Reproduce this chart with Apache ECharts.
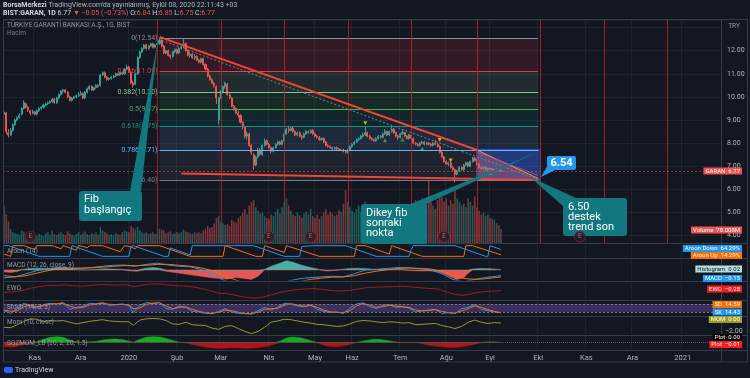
<!DOCTYPE html>
<html>
<head>
<meta charset="utf-8">
<title>GARAN 1G</title>
<script src="https://cdn.jsdelivr.net/npm/echarts/dist/echarts.min.js"></script>
<style>
html, body { margin: 0; padding: 0; background: #131722; }
#chart { width: 750px; height: 378px; }
</style>
</head>
<body>
<div id="chart"></div>
<script>
var FONT = 'Roboto, "Liberation Sans", sans-serif';

// trading days: weekdays, BIST holidays skipped
var holidays = ['2019-10-29', '2020-01-01', '2020-04-23', '2020-05-01', '2020-05-19',
  '2020-05-25', '2020-05-26', '2020-07-15', '2020-07-31', '2020-08-03'];
var dates = [];
var day = new Date(Date.UTC(2019, 9, 11));
var lastDay = Date.UTC(2021, 0, 26);
while (day.getTime() <= lastDay) {
  var wd = day.getUTCDay();
  var iso = day.toISOString().slice(0, 10);
  if (wd !== 0 && wd !== 6 && holidays.indexOf(iso) < 0) dates.push(iso);
  day.setUTCDate(day.getUTCDate() + 1);
}
var monthNames = ['Oca', 'Şub', 'Mar', 'Nis', 'May', 'Haz', 'Tem', 'Ağu', 'Eyl', 'Eki', 'Kas', 'Ara'];

// [open, close, low, high]
var candles = [
  [9.25,9.35,9.15,9.45],[9.30,8.50,8.40,9.35],[8.45,8.35,8.25,8.60],[8.35,8.55,8.30,8.65],[8.55,8.80,8.50,8.85],[8.80,9.00,8.75,9.05],
  [9.00,9.10,8.95,9.15],[9.10,9.20,9.05,9.30],[9.25,9.50,9.20,9.55],[9.50,9.75,9.45,9.85],[9.70,9.55,9.50,9.75],[9.55,9.45,9.35,9.60],
  [9.40,9.30,9.20,9.45],[9.30,9.35,9.25,9.45],[9.35,9.25,9.20,9.40],[9.25,9.40,9.20,9.45],[9.40,9.50,9.35,9.55],[9.50,9.55,9.45,9.60],
  [9.55,9.65,9.50,9.70],[9.65,9.70,9.60,9.75],[9.70,9.75,9.65,9.80],[9.75,9.80,9.70,9.85],[9.80,9.90,9.75,9.95],[9.90,9.75,9.70,9.95],
  [9.75,9.95,9.70,10.00],[9.95,10.10,9.90,10.15],[10.10,10.25,10.05,10.30],[10.25,10.30,10.15,10.35],[10.30,10.20,10.15,10.35],[10.20,10.00,9.95,10.25],
  [10.00,9.85,9.80,10.05],[9.85,9.95,9.80,10.00],[9.95,10.00,9.90,10.05],[10.00,10.05,9.95,10.10],[10.05,10.10,10.00,10.20],[10.10,10.15,10.05,10.25],
  [10.15,9.95,9.90,10.20],[9.95,10.20,9.90,10.25],[10.20,10.35,10.15,10.40],[10.35,10.45,10.30,10.50],[10.45,10.30,10.25,10.50],[10.30,10.40,10.25,10.45],
  [10.40,10.50,10.35,10.55],[10.50,10.45,10.40,10.55],[10.50,10.95,10.45,11.00],[10.95,11.05,10.90,11.10],[11.05,10.85,10.80,11.10],[10.85,10.75,10.70,10.90],
  [10.75,10.80,10.70,10.85],[10.80,10.85,10.75,10.90],[10.85,10.90,10.80,10.95],[10.90,11.00,10.85,11.05],[11.00,10.95,10.90,11.05],[10.95,11.05,10.90,11.10],
  [11.05,11.00,10.95,11.10],[11.00,11.20,10.95,11.25],[11.20,11.30,11.15,11.40],[11.30,11.10,11.05,11.35],[11.05,10.60,10.55,11.10],[10.60,10.50,10.40,10.70],
  [10.55,11.00,10.50,11.05],[11.00,11.70,10.95,11.75],[11.70,11.95,11.65,12.00],[11.95,12.10,11.90,12.15],[12.10,12.25,12.05,12.30],[12.25,12.10,12.05,12.30],
  [12.10,12.20,12.05,12.25],[12.20,12.30,12.15,12.35],[12.30,12.15,12.10,12.35],[12.15,12.25,12.10,12.30],[12.25,12.30,12.20,12.40],[12.30,12.45,12.25,12.54],
  [12.45,12.20,12.15,12.50],[12.20,11.90,11.85,12.25],[11.90,12.00,11.85,12.05],[12.00,11.80,11.75,12.05],[11.80,11.75,11.65,11.85],[11.75,11.95,11.70,12.00],
  [11.95,12.05,11.90,12.10],[12.05,11.90,11.85,12.10],[11.90,12.10,11.85,12.15],[12.10,12.15,12.05,12.25],[12.15,12.30,12.10,12.50],[12.30,12.00,11.95,12.35],
  [12.00,11.80,11.75,12.05],[11.80,11.85,11.70,11.95],[11.85,11.70,11.65,11.90],[11.70,11.75,11.60,11.85],[11.75,11.60,11.55,11.80],[11.60,11.50,11.45,11.65],
  [11.50,11.65,11.45,11.70],[11.65,11.40,11.35,11.70],[11.40,11.20,11.15,11.45],[11.20,10.90,10.85,11.25],[10.90,10.75,10.70,10.95],[10.75,10.60,10.55,10.80],
  [10.60,10.50,10.40,10.65],[10.45,9.95,9.70,10.50],[9.00,9.95,8.80,10.00],[9.95,10.20,9.90,10.30],[10.20,10.45,10.15,10.50],[10.45,10.60,10.35,10.65],
  [10.55,10.10,10.05,10.60],[10.10,10.00,9.90,10.15],[9.95,9.60,9.55,10.00],[9.60,9.50,9.40,9.65],[9.50,9.30,9.25,9.55],[9.30,9.20,9.10,9.40],
  [9.20,8.90,8.85,9.25],[8.90,8.70,8.60,8.95],[8.70,8.30,8.20,8.75],[8.30,8.40,8.15,8.50],[8.40,7.90,7.85,8.45],[7.90,7.60,7.50,7.95],
  [7.50,7.05,6.85,7.55],[7.05,7.40,7.00,7.45],[7.40,7.70,7.35,7.80],[7.70,7.50,7.45,7.80],[7.50,7.90,7.45,7.95],[7.90,8.10,7.85,8.20],
  [8.10,7.95,7.90,8.15],[7.95,7.80,7.75,8.00],[7.80,7.65,7.55,7.85],[7.65,7.80,7.60,7.85],[7.80,7.95,7.75,8.00],[7.95,8.05,7.90,8.10],
  [8.05,7.95,7.90,8.10],[7.95,8.10,7.90,8.15],[8.10,8.40,8.05,8.45],[8.40,8.60,8.35,8.65],[8.60,8.55,8.45,8.75],[8.55,8.65,8.50,8.70],
  [8.65,8.50,8.45,8.70],[8.50,8.35,8.30,8.55],[8.35,8.45,8.30,8.50],[8.45,8.30,8.25,8.50],[8.30,8.25,8.15,8.35],[8.25,8.40,8.20,8.45],
  [8.40,8.50,8.35,8.55],[8.50,8.45,8.40,8.55],[8.45,8.55,8.40,8.60],[8.55,8.40,8.35,8.60],[8.40,8.30,8.25,8.45],[8.30,8.25,8.20,8.35],
  [8.25,8.15,8.10,8.30],[8.15,8.20,8.10,8.25],[8.20,8.05,8.00,8.25],[8.05,7.90,7.85,8.10],[7.90,7.85,7.80,7.95],[7.85,7.80,7.75,7.90],
  [7.80,7.75,7.70,7.85],[7.75,7.80,7.70,7.85],[7.80,7.75,7.70,7.85],[7.75,7.70,7.65,7.80],[7.70,7.70,7.65,7.75],[7.70,7.65,7.60,7.75],
  [7.65,7.60,7.55,7.70],[7.60,7.70,7.55,7.75],[7.70,7.85,7.65,7.90],[7.85,7.95,7.80,8.00],[7.95,8.05,7.90,8.10],[8.05,8.15,8.00,8.20],
  [8.15,8.20,8.10,8.25],[8.20,8.30,8.15,8.35],[8.30,8.35,8.25,8.45],[8.35,8.45,8.30,8.70],[8.45,8.30,8.25,8.50],[8.30,8.20,8.15,8.35],
  [8.20,8.15,8.10,8.25],[8.15,8.10,8.05,8.20],[8.10,8.20,8.05,8.25],[8.20,8.30,8.15,8.35],[8.30,8.25,8.20,8.35],[8.25,8.40,8.20,8.45],
  [8.40,8.50,8.35,8.60],[8.50,8.35,8.30,8.55],[8.35,8.50,8.30,8.55],[8.50,8.60,8.45,8.70],[8.60,8.45,8.40,8.65],[8.45,8.30,8.25,8.50],
  [8.30,8.25,8.15,8.35],[8.25,8.40,8.20,8.45],[8.40,8.45,8.35,8.55],[8.45,8.30,8.25,8.50],[8.30,8.20,8.15,8.35],[8.20,8.35,8.15,8.40],
  [8.35,8.20,8.15,8.40],[8.20,8.00,7.95,8.25],[8.00,7.95,7.90,8.05],[7.95,7.90,7.85,8.00],[7.90,8.00,7.85,8.05],[8.00,8.05,7.95,8.10],
  [8.05,7.95,7.90,8.10],[7.95,8.00,7.90,8.05],[8.00,7.95,7.90,8.05],[7.95,7.90,7.85,8.00],[7.90,8.00,7.85,8.05],[8.00,7.95,7.90,8.15],
  [7.95,7.85,7.80,8.00],[7.85,7.60,7.55,7.90],[7.60,7.40,7.35,7.65],[7.40,7.20,7.15,7.45],[7.20,7.10,7.05,7.25],[7.10,7.15,7.00,7.20],
  [7.15,6.95,6.90,7.20],[6.95,6.85,6.80,7.00],[6.85,6.65,6.30,6.90],[6.65,6.80,6.60,6.85],[6.80,6.95,6.75,7.00],[6.95,6.85,6.80,7.00],
  [6.85,7.05,6.80,7.10],[7.05,7.15,7.00,7.20],[7.15,7.00,6.95,7.20],[7.00,7.20,6.95,7.25],[7.20,7.35,7.15,7.40],[7.35,7.25,7.20,7.40],
  [7.25,7.10,7.05,7.30],[7.10,6.95,6.90,7.15],[6.95,6.90,6.85,7.00],[6.90,6.95,6.85,7.00],[6.95,6.85,6.80,7.00],[6.85,6.90,6.80,6.95],
  [6.90,6.88,6.83,6.95],[6.88,6.82,6.78,6.92],[6.82,6.86,6.78,6.90],[6.86,6.80,6.76,6.90],[6.80,6.84,6.77,6.88],[6.84,6.77,6.75,6.85]
];

// volume, millions
var volume = [
  210,160,120,80,60,55,50,45,70,65, 50,45,40,55,45,40,50,45,40,55,
  60,45,70,50,45,55,60,50,45,65, 55,45,40,50,60,45,55,65,50,45,
  55,50,60,45,90,70,60,55,45,50, 45,55,50,45,60,70,65,60,95,85,
  75,90,70,60,55,60,50,55,60,50, 55,80,75,70,55,60,65,50,55,60,
  55,60,75,65,60,55,50,60,55,60, 55,70,80,95,85,90,110,140,150,120,
  110,100,105,95,130,120,115,140,150,170, 190,160,210,230,240,200,180,165,170,150,
  140,135,160,150,175,190,165,200,230,250, 210,180,160,150,170,155,140,165,175,160,
  190,150,140,160,135,150,170,190,160,175, 165,150,160,185,170,220,295,230,200,180,
  170,190,210,175,200,230,185,160,150,170, 155,175,160,190,200,170,160,185,175,165,
  150,180,160,140,170,200,185,210,240,190, 230,250,220,250,350,230,210,190,240,270,
  260,230,250,210,240,220,300,250,230,210, 220,200,250,230,210,260,200,180,160,170,
  150,160,140,135,130,110,100,78
];

// fibonacci retracement
var fibRatios = ['0', '0.236', '0.382', '0.5', '0.618', '0.786', '1'];
var fibPrices = [12.54, 11.09, 10.20, 9.47, 8.75, 7.71, 6.40];
var fibColors = ['#8a8d96', '#f23645', '#81c784', '#4caf50', '#089981', '#64b5f6', '#787b86'];
var fibFills = ['rgba(242,54,69,0.14)', 'rgba(129,199,132,0.12)', 'rgba(76,175,80,0.12)',
  'rgba(8,153,129,0.12)', 'rgba(100,181,246,0.12)', 'rgba(120,123,134,0.12)'];
var fibStart = 71, fibEnd = 244;

// drawings, [bar index, price]
var cycleLines = [70, 99, 128, 157, 186, 216, 245, 274, 303];
var trendTop = [[71, 12.60], [216, 7.70]];
var trendExt = [[216, 7.70], [244, 6.47]];
var supportLine = [[81, 6.68], [244, 6.40]];
var guideLine = [[72, 12.45], [244, 6.42]];
var triangle = [[216, 7.70], [244, 6.47], [244, 6.40], [216, 6.40]];
var boxRange = [[216, 7.71], [245, 6.40]];
var upMarks = [[174, 8.12], [182, 8.16], [191, 7.77], [222, 6.70]];
var downMarks = [[165, 8.86], [199, 8.13], [204, 7.25]];
var earnings = [12, 121, 140, 201, 263];

// indicators, [bar index, value]
var aroonUp = [[0,21],[2,7],[3,0],[4,100],[9,100],[10,93],[14,64],[15,100],[22,100],[23,93],[26,71],[27,100],[28,93],
  [33,57],[34,100],[36,93],[38,79],[39,100],[45,100],[46,93],[53,43],[55,100],[57,93],[60,71],[61,100],[71,100],
  [85,0],[100,0],[101,100],[115,0],[118,0],[119,100],[120,93],[128,36],[129,100],[130,93],[144,0],[160,0],[161,100],
  [165,100],[166,93],[176,21],[177,100],[178,93],[191,0],[210,0],[211,100],[214,100],[215,93],[227,14]];
var aroonDown = [[0,100],[2,100],[3,93],[16,0],[30,0],[31,100],[32,93],[45,0],[57,0],[58,93],[59,100],[60,93],[73,0],
  [75,0],[76,79],[77,71],[84,21],[85,14],[86,100],[114,100],[128,0],[135,0],[136,93],[142,100],[156,100],[170,0],
  [185,0],[186,64],[187,100],[206,100],[220,0],[221,0],[222,100],[227,64]];
var macdHist = [[0,-0.06],[3,-0.08],[6,-0.05],[8,0.02],[12,0.05],[16,0.06],[20,0.05],[24,0.07],[28,0.08],[31,0.03],
  [34,0.01],[38,0.0],[42,0.02],[46,0.04],[50,0.03],[54,0.02],[58,-0.03],[61,-0.04],[64,0.05],[68,0.08],[71,0.06],
  [74,-0.04],[78,-0.08],[82,-0.12],[86,-0.16],[90,-0.2],[94,-0.24],[98,-0.27],[102,-0.29],[106,-0.24],[110,-0.27],
  [113,-0.3],[116,-0.2],[119,0.02],[122,0.12],[126,0.22],[129,0.3],[132,0.25],[136,0.15],[140,0.08],[144,0.02],
  [147,-0.03],[150,-0.02],[154,0.02],[158,0.05],[162,0.06],[166,0.04],[170,0.02],[174,0.03],[178,0.02],[182,0.01],
  [186,-0.02],[190,-0.03],[194,-0.03],[198,-0.05],[201,-0.12],[204,-0.22],[207,-0.3],[210,-0.25],[212,-0.1],
  [214,0.03],[218,0.05],[222,0.04],[227,0.02]];
var macdLine = [[0,-0.25],[5,-0.22],[10,-0.12],[15,-0.02],[20,0.04],[25,0.08],[30,0.06],[35,0.05],[40,0.08],[45,0.12],
  [50,0.15],[55,0.16],[60,0.12],[65,0.18],[70,0.22],[75,0.16],[80,0.12],[85,0.1],[90,0.02],[95,-0.12],[100,-0.32],
  [105,-0.45],[110,-0.6],[115,-0.8],[120,-0.7],[125,-0.5],[130,-0.35],[135,-0.28],[140,-0.24],[145,-0.22],[150,-0.2],
  [155,-0.22],[160,-0.12],[165,0.0],[170,0.02],[175,0.05],[180,0.08],[185,0.07],[190,0.04],[195,0.0],[200,-0.12],
  [205,-0.3],[210,-0.38],[215,-0.3],[220,-0.24],[227,-0.18]];
var macdSignal = [[0,-0.18],[5,-0.22],[10,-0.18],[15,-0.1],[20,-0.02],[25,0.04],[30,0.06],[35,0.06],[40,0.07],[45,0.09],
  [50,0.12],[55,0.14],[60,0.14],[65,0.15],[70,0.18],[75,0.18],[80,0.15],[85,0.12],[90,0.07],[95,-0.02],[100,-0.15],
  [105,-0.3],[110,-0.42],[115,-0.58],[120,-0.65],[125,-0.6],[130,-0.48],[135,-0.38],[140,-0.3],[145,-0.26],[150,-0.23],
  [155,-0.22],[160,-0.18],[165,-0.1],[170,-0.04],[175,0.01],[180,0.05],[185,0.06],[190,0.05],[195,0.03],[200,-0.04],
  [205,-0.15],[210,-0.27],[215,-0.3],[220,-0.28],[227,-0.22]];
var ewo = [[0,-0.6],[4,-0.5],[8,-0.3],[12,0.1],[16,0.4],[20,0.55],[24,0.6],[28,0.7],[32,0.5],[36,0.45],[40,0.6],[44,0.75],
  [48,0.7],[52,0.65],[56,0.7],[59,0.4],[62,0.55],[66,0.8],[70,0.85],[74,0.7],[78,0.55],[82,0.5],[86,0.35],[90,0.1],
  [94,-0.3],[98,-0.7],[102,-0.8],[106,-1.1],[110,-1.4],[114,-1.55],[118,-1.4],[122,-1.0],[126,-0.6],[130,-0.3],
  [134,-0.1],[138,0.0],[142,0.05],[146,-0.1],[150,-0.3],[154,-0.35],[158,-0.25],[162,0.0],[166,0.25],[170,0.3],
  [174,0.35],[178,0.4],[182,0.45],[186,0.35],[190,0.2],[194,0.1],[198,0.0],[202,-0.5],[206,-0.9],[209,-1.1],
  [212,-0.95],[216,-0.6],[220,-0.45],[224,-0.35],[227,-0.28]];
var stochK = [[0,30],[3,10],[6,45],[9,85],[12,60],[15,50],[18,75],[21,85],[24,80],[27,90],[30,40],[33,55],[36,60],[39,85],
  [42,80],[45,90],[48,70],[51,75],[54,80],[57,70],[59,15],[62,70],[65,90],[68,85],[71,92],[74,45],[77,40],[80,65],
  [83,55],[86,25],[89,20],[92,10],[95,8],[98,25],[101,45],[104,20],[107,10],[110,8],[113,5],[116,30],[119,55],[122,35],
  [125,55],[128,85],[131,80],[134,65],[137,60],[140,75],[143,40],[146,25],[149,15],[152,20],[155,10],[158,50],[161,80],
  [164,88],[167,60],[170,45],[173,70],[176,75],[179,55],[182,60],[185,50],[188,20],[191,30],[194,35],[197,40],[200,10],
  [203,15],[206,8],[209,45],[212,55],[215,75],[218,40],[221,30],[224,20],[227,14.43]];
var stochD = [[0,35],[3,25],[6,30],[9,60],[12,70],[15,60],[18,65],[21,78],[24,82],[27,85],[30,65],[33,50],[36,55],[39,72],
  [42,80],[45,85],[48,78],[51,75],[54,77],[57,72],[59,45],[62,50],[65,78],[68,85],[71,88],[74,65],[77,45],[80,55],
  [83,58],[86,40],[89,25],[92,15],[95,10],[98,18],[101,35],[104,30],[107,18],[110,10],[113,7],[116,18],[119,40],[122,45],
  [125,48],[128,70],[131,82],[134,72],[137,63],[140,68],[143,55],[146,35],[149,22],[152,18],[155,15],[158,30],[161,65],
  [164,82],[167,72],[170,55],[173,60],[176,70],[179,65],[182,58],[185,55],[188,35],[191,28],[194,32],[197,38],[200,25],
  [203,15],[206,12],[209,28],[212,45],[215,65],[218,55],[221,38],[224,25],[227,14.59]];
var mom = [[0,-1.0],[3,-1.1],[6,-0.4],[9,0.4],[12,1.0],[15,0.9],[18,0.3],[21,0.6],[24,0.5],[27,0.6],[30,0.2],[33,-0.2],
  [36,0.1],[39,0.4],[42,0.6],[45,0.8],[48,0.5],[51,0.4],[54,0.3],[57,0.3],[59,-0.5],[62,0.7],[65,1.0],[68,1.1],[71,1.0],
  [74,0.6],[77,-0.2],[80,-0.3],[83,0.2],[86,-0.4],[89,-0.5],[92,-0.6],[95,-1.2],[98,-1.5],[101,-0.8],[104,-0.6],
  [107,-1.3],[110,-2.0],[113,-2.5],[116,-2.0],[119,-1.0],[122,0.2],[125,0.5],[128,0.9],[131,0.8],[134,0.5],[137,0.2],
  [140,0.0],[143,-0.3],[146,-0.4],[149,-0.6],[152,-0.8],[155,-0.7],[158,-0.2],[161,0.4],[164,0.6],[167,0.5],[170,0.3],
  [173,0.1],[176,0.3],[179,0.2],[182,0.0],[185,0.1],[188,-0.4],[191,-0.3],[194,-0.2],[197,-0.1],[200,-0.6],[203,-0.9],
  [206,-1.3],[209,-0.8],[212,0.2],[215,0.7],[218,0.2],[221,-0.1],[224,0.1],[227,0.0]];
var sqz = [[0,-0.6],[4,-0.7],[8,-0.4],[12,-0.1],[15,0.1],[18,0.5],[21,0.8],[24,0.9],[27,0.8],[30,0.4],[33,0.1],[36,0.05],
  [39,0.1],[42,0.15],[45,0.4],[48,0.5],[51,0.55],[54,0.45],[57,0.2],[59,0.05],[62,0.5],[65,0.8],[68,0.9],[71,0.85],
  [74,0.6],[77,0.3],[80,0.05],[83,-0.05],[86,-0.3],[89,-0.5],[92,-0.7],[95,-0.8],[98,-0.9],[102,-0.85],[106,-0.8],
  [110,-0.9],[114,-0.85],[118,-0.7],[121,-0.5],[124,-0.2],[126,0.2],[129,0.7],[132,0.85],[135,0.75],[138,0.5],[141,0.2],
  [143,-0.05],[146,-0.4],[149,-0.6],[152,-0.6],[155,-0.5],[158,-0.3],[161,-0.05],[163,0.15],[166,0.35],[169,0.5],
  [172,0.45],[175,0.3],[178,0.1],[181,0.02],[184,-0.02],[187,0.02],[190,-0.1],[193,-0.35],[196,-0.5],[199,-0.6],
  [202,-0.7],[205,-0.75],[208,-0.7],[211,-0.55],[214,-0.35],[217,-0.1],[219,0.05],[222,0.1],[225,0.06],[227,-0.01]];

function isMonthStart(i) {
  return i > 0 && dates[i].slice(0, 7) !== dates[i - 1].slice(0, 7);
}
function monthLabel(v) {
  var m = +v.slice(5, 7);
  return m === 1 ? v.slice(0, 4) : monthNames[m - 1];
}
// split a histogram into its part above and below zero
function aboveZero(list) { return list.map(function (p) { return [p[0], Math.max(p[1], 0)]; }); }
function belowZero(list) { return list.map(function (p) { return [p[0], Math.min(p[1], 0)]; }); }

var myChart = echarts.init(document.getElementById('chart'));
var L = 3, R = 29;
var gridDefs = [
  { top: 20, height: 223 },   // price
  { top: 150, height: 93 },   // volume
  { top: 245, height: 12 },   // aroon
  { top: 260, height: 20 },   // macd
  { top: 283, height: 16 },   // ewo
  { top: 301, height: 14 },   // stoch
  { top: 318, height: 16 },   // mom
  { top: 336, height: 13 }    // sqzmom
];
var gridLine = 'rgba(42,46,57,0.55)';

var xAxes = gridDefs.map(function (g, i) {
  return {
    type: 'category', gridIndex: i, data: dates, boundaryGap: true,
    axisLine: { show: false }, axisTick: { show: false },
    axisLabel: {
      show: i === 7, interval: function (idx) { return isMonthStart(idx); },
      formatter: function (v) { return monthLabel(v); },
      color: '#b2b5be', fontSize: 7.5, fontFamily: FONT, margin: 5
    },
    splitLine: { show: i !== 1, interval: function (idx) { return isMonthStart(idx); },
      lineStyle: { color: gridLine, width: 1 } }
  };
});

function hiddenY(i, min, max) {
  return { type: 'value', gridIndex: i, min: min, max: max, show: false };
}
var yAxes = [
  {
    type: 'value', gridIndex: 0, position: 'right', min: 3.675, max: 13.329, splitNumber: 10,
    axisLine: { show: false }, axisTick: { show: false },
    axisLabel: {
      color: '#b2b5be', fontSize: 7, fontFamily: FONT, margin: 6,
      formatter: function (v) {
        return (v >= 4 && v <= 12 && Math.abs(v - Math.round(v)) < 1e-6) ? v.toFixed(2) : '';
      }
    },
    splitLine: { lineStyle: { color: gridLine } }
  },
  hiddenY(1, 0, 520),
  hiddenY(2, -6, 106),
  hiddenY(3, -0.32, 0.32),
  hiddenY(4, -1.7, 1.0),
  hiddenY(5, -2, 102),
  {
    type: 'value', gridIndex: 6, position: 'right', min: -2.6, max: 1.2, splitNumber: 4,
    axisLine: { show: false }, axisTick: { show: false }, splitLine: { show: false },
    axisLabel: { color: '#b2b5be', fontSize: 7, fontFamily: FONT, margin: 4,
      formatter: function (v) { return v === -2 ? '\u22122.00' : ''; } }
  },
  hiddenY(7, -1, 1)
];

var fibLines = fibPrices.map(function (p, i) {
  return [{
    coord: [fibStart, p], lineStyle: { color: fibColors[i], width: 1, type: 'solid' },
    label: { show: true, position: 'start', distance: 2, color: fibColors[i], fontSize: 7, fontFamily: FONT,
      formatter: fibRatios[i] + '(' + p.toFixed(2) + ')' }
  }, { coord: [fibEnd, p] }];
});
var fibBands = fibFills.map(function (c, i) {
  return [{ coord: [fibStart, fibPrices[i]], itemStyle: { color: c } }, { coord: [fibEnd, fibPrices[i + 1]] }];
});
function seg(pts, color, width, type) {
  return [{ coord: pts[0], lineStyle: { color: color, width: width, type: type || 'solid' }, label: { show: false } },
    { coord: pts[1] }];
}
var markLines = fibLines
  .concat(cycleLines.map(function (k) {
    return { xAxis: k, lineStyle: { color: 'rgba(190,30,35,0.85)', width: 1, type: 'solid' }, label: { show: false } };
  }))
  .concat([
    { yAxis: 6.77, lineStyle: { color: 'rgba(239,83,80,0.55)', width: 1, type: [2, 2] }, label: { show: false } },
    seg(guideLine, '#7d808a', 1, [2, 2]),
    seg(trendTop, '#f44336', 2),
    seg(supportLine, '#f44336', 2)
  ]);

var volumeData = volume.map(function (v, i) {
  var up = candles[i][1] >= candles[i][0];
  return { value: v, itemStyle: { color: up ? 'rgba(38,166,154,0.5)' : 'rgba(239,83,80,0.5)' } };
});

function lineSeries(i, data, color, extra) {
  var s = { type: 'line', xAxisIndex: i, yAxisIndex: i, data: data, showSymbol: false, symbol: 'none',
    lineStyle: { color: color, width: 1 }, silent: true };
  if (extra) for (var k in extra) s[k] = extra[k];
  return s;
}
function areaSeries(i, data, color) {
  return lineSeries(i, data, color, { areaStyle: { color: color, opacity: 0.95 }, lineStyle: { color: color, width: 0.5 } });
}

var series = [
  {
    type: 'candlestick', xAxisIndex: 0, yAxisIndex: 0, data: candles, barWidth: '70%',
    itemStyle: { color: '#26a69a', color0: '#ef5350', borderColor: '#26a69a', borderColor0: '#ef5350', borderWidth: 1 },
    markArea: { silent: true, data: fibBands.concat([[
      { coord: boxRange[0], itemStyle: { color: 'rgba(41,98,255,0.38)', borderColor: '#2962ff', borderWidth: 1 } },
      { coord: boxRange[1] }]]) },
    markLine: { silent: true, symbol: ['none', 'none'], animation: false, data: markLines }
  },
  {
    type: 'custom', xAxisIndex: 0, yAxisIndex: 0, data: [0], silent: true, z: 3,
    renderItem: function (params, api) {
      var pts = triangle.map(function (p) { return api.coord(p); });
      var a = api.coord(trendExt[0]), b = api.coord(trendExt[1]);
      return { type: 'group', children: [
        { type: 'polygon', shape: { points: pts }, style: { fill: 'rgba(200,110,125,0.38)' } },
        { type: 'line', shape: { x1: a[0], y1: a[1], x2: b[0], y2: b[1] }, style: { stroke: '#ff9800', lineWidth: 1 } },
        { type: 'line', shape: { x1: a[0], y1: a[1] + 2, x2: b[0], y2: b[1] - 3 }, style: { stroke: '#ab47bc', lineWidth: 1 } }
      ] };
    }
  },
  { type: 'scatter', xAxisIndex: 0, yAxisIndex: 0, data: upMarks, symbol: 'triangle', symbolSize: 4,
    itemStyle: { color: '#4caf50' }, silent: true },
  { type: 'scatter', xAxisIndex: 0, yAxisIndex: 0, data: downMarks, symbol: 'triangle', symbolRotate: 180, symbolSize: 4,
    itemStyle: { color: '#ffd600' }, silent: true },
  { type: 'scatter', xAxisIndex: 0, yAxisIndex: 0, silent: true, zlevel: 1,
    data: earnings.map(function (k) { return [k, 3.95]; }), symbol: 'circle', symbolSize: 11,
    itemStyle: { color: '#2a1a22', borderColor: '#6d2a36', borderWidth: 1 },
    label: { show: true, position: 'inside', formatter: 'E', color: '#d9727b', fontSize: 6.5, fontFamily: FONT } },
  { type: 'bar', xAxisIndex: 1, yAxisIndex: 1, data: volumeData, barWidth: '70%', silent: true },
  lineSeries(2, aroonUp, '#ff6d00'),
  lineSeries(2, aroonDown, '#2196f3'),
  areaSeries(3, aboveZero(macdHist), '#4db6ac'),
  areaSeries(3, belowZero(macdHist), '#f05b5b'),
  lineSeries(3, macdLine, '#2196f3'),
  lineSeries(3, macdSignal, '#ff6d00'),
  lineSeries(4, ewo, '#a31b1b'),
  lineSeries(5, stochK, '#2196f3', {
    markArea: { silent: true, data: [[{ yAxis: 20, itemStyle: { color: 'rgba(126,87,194,0.38)' } }, { yAxis: 80 }]] },
    markLine: { silent: true, symbol: ['none', 'none'], label: { show: false },
      lineStyle: { color: '#787b86', type: [2, 2], width: 1 }, data: [{ yAxis: 20 }, { yAxis: 80 }] }
  }),
  lineSeries(5, stochD, '#ff6d00'),
  lineSeries(6, mom, '#9a9a22'),
  areaSeries(7, aboveZero(sqz), '#12b322'),
  lineSeries(7, belowZero(sqz), '#c3101a', {
    areaStyle: { color: '#c3101a', opacity: 0.95 }, lineStyle: { color: '#c3101a', width: 0.5 },
    markLine: { silent: true, symbol: ['none', 'none'], label: { show: false },
      lineStyle: { color: '#555a66', type: [1, 1], width: 1 }, data: [{ yAxis: 0 }] }
  })
];

// ---- page chrome: header, pane titles, value tags, callouts ----
function txt(x, y, text, color, size, extra) {
  var s = { text: text, x: x, y: y, fill: color, font: (size || 7) + 'px ' + FONT, verticalAlign: 'middle' };
  if (extra) for (var k in extra) s[k] = extra[k];
  return { type: 'text', silent: true, z: 130, style: s };
}
function hline(y) {
  return { type: 'line', silent: true, z: 90, shape: { x1: 3.5, y1: y, x2: 747.5, y2: y },
    style: { stroke: '#363a45', lineWidth: 1 } };
}
function tag(y, text, bg, fg) {
  return { type: 'text', silent: true, z: 110, style: {
    text: text, x: 742, y: y, align: 'right', verticalAlign: 'middle', fill: fg || '#ffffff',
    font: '6px ' + FONT, backgroundColor: bg, padding: [1, 2, 0, 2] } };
}
var TEAL = '#117880';
var graphics = [
  { type: 'rect', silent: true, z: 90, shape: { x: 3.5, y: 19.5, width: 744, height: 342.5 },
    style: { fill: null, stroke: '#363a45', lineWidth: 1 } },
  { type: 'line', silent: true, z: 90, shape: { x1: 721.5, y1: 19.5, x2: 721.5, y2: 362 },
    style: { stroke: '#363a45', lineWidth: 1 } },
  hline(243.5), hline(258.5), hline(281.5), hline(300.5), hline(316.5), hline(335.5), hline(350.5),
  txt(3, 5.5, '{b|BorsaMerkezi} TradingView.com\'da yayınlanmış, Eylül 08, 2020 22:11:43 +03', '#b2b5be', 7, {
    rich: { b: { fill: '#d1d4dc', fontWeight: 'bold', fontSize: 7, fontFamily: FONT } } }),
  txt(3, 13, '{b|BIST:GARAN, 1D} {w|6.77} {r|\u25bc \u22120.05 (\u22120.73%)} {w|O:}{r|6.84} {w|H:}{r|6.85} {w|L:}{r|6.75} {w|C:}{r|6.77}', '#d1d4dc', 7, {
    rich: { b: { fill: '#d1d4dc', fontWeight: 'bold', fontSize: 7, fontFamily: FONT },
      w: { fill: '#d1d4dc', fontSize: 7, fontFamily: FONT },
      r: { fill: '#ef5350', fontSize: 7, fontFamily: FONT } } }),
  txt(7, 25.5, 'TÜRKİYE GARANTİ BANKASI A.Ş., 1G, BIST', '#9598a1', 6.5),
  txt(7, 33, 'Hacim', '#787b86', 6.5),
  txt(734, 26.5, 'TRY', '#9598a1', 6.5, { align: 'center' }),
  txt(7, 251.5, 'Aroon (14)', '#9598a1', 6.5),
  txt(7, 265, 'MACD (12, 26, close, 9)', '#9598a1', 6.5),
  txt(7, 288, 'EWO', '#9598a1', 6.5),
  txt(7, 307.5, 'Stoch (14, 3, 3)', '#9598a1', 6.5),
  txt(7, 322.5, 'Mom (10, close)', '#9598a1', 6.5),
  txt(7, 343, 'SQZMOM_LB (20, 2, 20, 1.5)', '#9598a1', 6.5),
  tag(171, 'GARAN  6.77', '#ef5350'),
  tag(230, 'Volume  78.008M', '#ef5350'),
  tag(248.5, 'Aroon Down  64.29%', '#2196f3'),
  tag(255.5, 'Aroon Up  14.29%', '#ff6d00'),
  tag(269, 'Histogram  0.02', '#b2dfdb', '#131722'),
  tag(278.5, 'MACD  \u22120.15', '#2196f3'),
  tag(289, 'EWO  \u22120.28', '#ff1a1a'),
  tag(304.5, 'SD  14.59', '#ff6d00'),
  tag(312, 'SK  14.43', '#2196f3'),
  tag(319.5, 'MOM  0.00', '#9e9d24'),
  tag(337.5, 'Plot  0.00', '#000000'),
  tag(344.5, 'Plot  \u22120.01', '#ff1a1a'),
  // callouts
  { type: 'polygon', silent: true, z: 120, shape: { points: [[130, 191], [141, 191], [158, 40]] }, style: { fill: TEAL } },
  { type: 'rect', silent: true, z: 120, shape: { x: 79, y: 191, width: 63, height: 30, r: 3 }, style: { fill: TEAL } },
  txt(84, 199, 'Fib', '#ffffff', 11),
  txt(84, 210, 'başlangıç', '#ffffff', 11),
  { type: 'polygon', silent: true, z: 120, shape: { points: [[408, 205], [424, 205], [538, 152]] }, style: { fill: TEAL } },
  { type: 'rect', silent: true, z: 120, shape: { x: 361, y: 204, width: 66, height: 40, r: 3 }, style: { fill: TEAL } },
  txt(366, 213, 'Dikey fib', '#ffffff', 11),
  txt(366, 223, 'sonraki', '#ffffff', 11),
  txt(366, 233, 'nokta', '#ffffff', 11),
  { type: 'polygon', silent: true, z: 120, shape: { points: [[563, 206], [576, 198], [530, 177]] }, style: { fill: TEAL } },
  { type: 'rect', silent: true, z: 120, shape: { x: 563, y: 198, width: 64, height: 38, r: 3 }, style: { fill: TEAL } },
  txt(568, 207.5, '6.50', '#ffffff', 11),
  txt(568, 217.5, 'destek', '#ffffff', 11),
  txt(568, 227.5, 'trend son', '#ffffff', 11),
  { type: 'polygon', silent: true, z: 120, shape: { points: [[548, 165], [555, 170], [541, 177]] }, style: { fill: '#2196f3' } },
  { type: 'rect', silent: true, z: 120, shape: { x: 547, y: 156, width: 29, height: 14, r: 2 }, style: { fill: '#2196f3' } },
  txt(561.5, 163.5, '6.54', '#ffffff', 11, { align: 'center', font: 'bold 11px ' + FONT }),
  // logo
  { type: 'rect', silent: true, z: 120, shape: { x: 4, y: 367, width: 9, height: 6, r: 2 }, style: { fill: '#2962ff' } },
  txt(15, 370.5, 'TradingView', '#d1d4dc', 7)
];

var option = {
  backgroundColor: '#131722',
  animation: false,
  grid: gridDefs.map(function (g) { return { left: L, right: R, top: g.top, height: g.height }; }),
  xAxis: xAxes,
  yAxis: yAxes,
  series: series,
  graphic: graphics
};
myChart.setOption(option);
</script>
</body>
</html>
